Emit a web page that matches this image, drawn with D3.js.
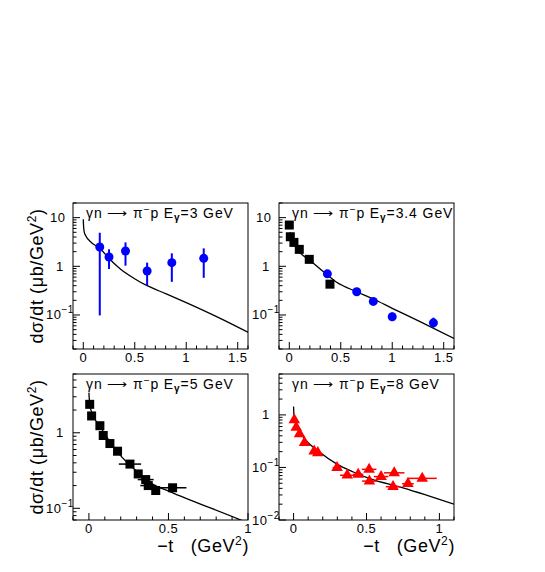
<!DOCTYPE html>
<html>
<head>
<meta charset="utf-8">
<script src="https://cdn.jsdelivr.net/npm/d3@7"></script>
<style>
  body { margin: 0; background: #fff; }
  text { font-family: "Liberation Sans", Arial, Helvetica, sans-serif; }
</style>
</head>
<body>
<script>
// E = 3 GeV (blue circles, vertical errors)
var t3 = [0.16, 0.25, 0.41, 0.62, 0.86, 1.17];
var ds3 = [2.5, 1.55, 2.06, 0.80, 1.19, 1.46];
var ds3Lo = [0.098, 0.88, 1.03, 0.40, 0.48, 0.58];
var ds3Hi = [4.9, 2.24, 3.1, 1.19, 1.85, 2.34];
var curve3T = [0, 0.003, 0.01, 0.025, 0.07, 0.167, 0.248, 0.36, 0.49, 0.62, 0.8, 1.0, 1.33, 1.6];
var curve3 = [9.3, 6.5, 5.0, 4.2, 3.2, 2.27, 1.46, 0.88, 0.57, 0.40, 0.274, 0.179, 0.085, 0.044];

// E = 3.4 GeV (black squares + blue circles)
var sqT34 = [0.0, 0.01, 0.045, 0.097, 0.194, 0.395];
var sqDs34 = [7.05, 4.05, 3.1, 2.23, 1.39, 0.43];
var ciT34 = [0.37, 0.655, 0.816, 1.0, 1.40];
var ciDs34 = [0.70, 0.30, 0.19, 0.092, 0.069];
var ciLo34 = [0.62, 0.27, 0.165, 0.075, 0.055];
var ciHi34 = [0.78, 0.33, 0.22, 0.112, 0.088];
var curve34T = [0.005, 0.05, 0.097, 0.194, 0.33, 0.46, 0.655, 0.816, 1.0, 1.27, 1.6];
var curve34 = [5.0, 2.9, 2.0, 1.35, 0.78, 0.47, 0.30, 0.213, 0.137, 0.073, 0.033];

// E = 5 GeV (black squares, horizontal errors)
var t5 = [0.005, 0.017, 0.069, 0.09, 0.132, 0.18, 0.258, 0.31, 0.357, 0.373, 0.42, 0.526];
var ds5 = [2.38, 1.67, 1.24, 0.92, 0.72, 0.57, 0.385, 0.285, 0.24, 0.20, 0.172, 0.187];
var t5Err = [0, 0, 0, 0, 0, 0, 0.07, 0, 0.05, 0.05, 0, 0.087];
var curve5T = [0, 0.005, 0.017, 0.069, 0.195, 0.3, 0.405, 0.5, 0.94, 1.0];
var curve5 = [3.4, 2.4, 1.88, 1.22, 0.51, 0.31, 0.206, 0.169, 0.072, 0.064];

// E = 8 GeV (red triangles, horizontal errors)
var t8 = [0.005, 0.018, 0.041, 0.075, 0.141, 0.166, 0.298, 0.368, 0.443, 0.518, 0.52, 0.60, 0.69, 0.682, 0.784, 0.882];
var ds8 = [0.80, 0.58, 0.435, 0.295, 0.204, 0.19, 0.099, 0.071, 0.074, 0.092, 0.055, 0.067, 0.079, 0.043, 0.049, 0.062];
var t8Err = [0, 0, 0, 0, 0, 0, 0.03, 0.05, 0.035, 0.05, 0.05, 0.05, 0.07, 0.05, 0.04, 0.1];
var curve8T = [0, 0.003, 0.011, 0.068, 0.18, 0.295, 0.41, 0.523, 0.75, 1.1];
var curve8 = [1.45, 0.95, 0.72, 0.376, 0.195, 0.117, 0.082, 0.061, 0.041, 0.02];

var energies = ['3', '3.4', '5', '8'];
var xTicks = [0, 0.5, 1, 1.5];
var blue = '#0000ff', red = '#ff0000';

var svg = d3.select('body').append('svg')
  .attr('width', 545)
  .attr('height', 572);

var zip = function(a, b) {
  return a.map(function(v, i) { return [v, b[i]]; });
};

var panels = [
  { id: 0, left: 73, top: 203, xdom: [-0.1, 1.6], ydom: [0.02, 20], e: energies[0], curve: zip(curve3T, curve3) },
  { id: 1, left: 279, top: 203, xdom: [-0.1, 1.6], ydom: [0.02, 20], e: energies[1], curve: zip(curve34T, curve34) },
  { id: 2, left: 73, top: 374, xdom: [-0.1, 1.0], ydom: [0.07, 6], e: energies[2], curve: zip(curve5T, curve5) },
  { id: 3, left: 279, top: 374, xdom: [-0.1, 1.1], ydom: [0.01, 6], e: energies[3], curve: zip(curve8T, curve8) }
];
var W = 175, H = 146;

var expLabel = function(sel, v) {
  var p = Math.round(Math.log10(v));
  if (p === 0) { sel.text('1'); return; }
  if (p === 1) { sel.text('10'); return; }
  sel.append('tspan').text('10');
  sel.append('tspan').attr('font-size', '10px').attr('dy', -6).text('\u2212' + (-p));
};

panels.forEach(function(p) {
  var x = d3.scaleLinear().domain(p.xdom).range([p.left, p.left + W]);
  var y = d3.scaleLog().domain(p.ydom).range([p.top + H, p.top]);
  var g = svg.append('g');

  g.append('clipPath').attr('id', 'clip' + p.id)
    .append('rect').attr('x', p.left).attr('y', p.top).attr('width', W).attr('height', H);

  // x ticks (inward)
  var minor = d3.range(Math.ceil(p.xdom[0] * 10), Math.floor(p.xdom[1] * 10 + 0.001) + 1).map(function(k) { return k / 10; });
  g.selectAll('.xt').data(minor).enter().append('line')
    .attr('x1', function(d) { return x(d); }).attr('x2', function(d) { return x(d); })
    .attr('y1', p.top + H)
    .attr('y2', function(d) { return p.top + H - (Math.abs(d * 2 - Math.round(d * 2)) < 1e-6 ? 7 : 3.5); })
    .attr('stroke', '#000').attr('stroke-width', 1);
  g.selectAll('.xl').data(xTicks.filter(function(d) { return d <= p.xdom[1] + 1e-6; })).enter().append('text')
    .attr('x', function(d) { return x(d); })
    .attr('y', p.top + H + 13)
    .attr('text-anchor', 'middle')
    .attr('font-size', '13px')
    .attr('letter-spacing', '0.5px')
    .text(function(d) { return d; });

  // y ticks (log, inward)
  var yt = y.ticks().filter(function(d) { return d >= p.ydom[0] * 0.999 && d <= p.ydom[1] * 1.001; });
  g.selectAll('.yt').data(yt).enter().append('line')
    .attr('x1', p.left)
    .attr('x2', function(d) { return p.left + (Math.abs(Math.log10(d) - Math.round(Math.log10(d))) < 1e-6 ? 7 : 3.5); })
    .attr('y1', function(d) { return y(d); }).attr('y2', function(d) { return y(d); })
    .attr('stroke', '#000').attr('stroke-width', 1);
  var decades = yt.filter(function(d) { return Math.abs(Math.log10(d) - Math.round(Math.log10(d))) < 1e-6; });
  g.selectAll('.yl').data(decades).enter().append('text')
    .attr('x', function(d) { return d < 0.5 ? p.left - 27 : (d > 5 ? p.left - 23 : p.left - 17); })
    .attr('y', function(d) { return y(d) + 4.5; })
    .attr('font-size', '13px')
    .attr('letter-spacing', '0.5px')
    .each(function(d) { expLabel(d3.select(this), d); });

  // frame
  g.append('rect')
    .attr('x', p.left).attr('y', p.top).attr('width', W).attr('height', H)
    .attr('fill', 'none').attr('stroke', '#000').attr('stroke-width', 1);

  // title
  var tt = g.append('text')
    .attr('x', p.left + 13).attr('y', p.top + 15)
    .attr('font-size', '14px')
    .attr('letter-spacing', '0.9px');
  tt.append('tspan').text('\u03b3n \u27f6 \u03c0');
  tt.append('tspan').attr('font-size', '10px').attr('dy', -5).text('\u2212');
  tt.append('tspan').attr('dy', 5).text('p E');
  tt.append('tspan').attr('font-size', '10px').attr('font-weight', 'bold').attr('dy', 3).text('\u03b3');
  tt.append('tspan').attr('dy', -3).text('=' + p.e + ' GeV');

  // model curve
  var line = d3.line()
    .x(function(d) { return x(d[0]); })
    .y(function(d) { return y(d[1]); })
    .curve(d3.curveMonotoneX);
  g.append('path').datum(p.curve)
    .attr('d', line)
    .attr('clip-path', 'url(#clip' + p.id + ')')
    .attr('fill', 'none').attr('stroke', '#000').attr('stroke-width', 1.3);

  p.x = x; p.y = y; p.g = g;
});

var circles = function(p, t, v, lo, hi, r) {
  var d = t.map(function(tt, i) { return { t: tt, v: v[i], lo: lo[i], hi: hi[i] }; });
  p.g.selectAll(null).data(d).enter().append('line')
    .attr('x1', function(e) { return p.x(e.t); }).attr('x2', function(e) { return p.x(e.t); })
    .attr('y1', function(e) { return p.y(e.lo); }).attr('y2', function(e) { return p.y(e.hi); })
    .attr('stroke', blue).attr('stroke-width', 2);
  p.g.selectAll(null).data(d).enter().append('circle')
    .attr('cx', function(e) { return p.x(e.t); })
    .attr('cy', function(e) { return p.y(e.v); })
    .attr('r', r).attr('fill', blue);
};

var hbars = function(p, t, v, err, color) {
  var d = t.map(function(tt, i) { return { t: tt, v: v[i], e: err[i] }; }).filter(function(e) { return e.e > 0; });
  p.g.selectAll(null).data(d).enter().append('line')
    .attr('x1', function(e) { return p.x(e.t - e.e); }).attr('x2', function(e) { return p.x(e.t + e.e); })
    .attr('y1', function(e) { return p.y(e.v); }).attr('y2', function(e) { return p.y(e.v); })
    .attr('stroke', color).attr('stroke-width', 1.5);
};

var squares = function(p, t, v) {
  p.g.selectAll(null).data(zip(t, v)).enter().append('rect')
    .attr('x', function(d) { return p.x(d[0]) - 4.5; })
    .attr('y', function(d) { return p.y(d[1]) - 4.5; })
    .attr('width', 9).attr('height', 9).attr('fill', '#000');
};

circles(panels[0], t3, ds3, ds3Lo, ds3Hi, 4.5);

squares(panels[1], sqT34, sqDs34);
circles(panels[1], ciT34, ciDs34, ciLo34, ciHi34, 4.5);

hbars(panels[2], t5, ds5, t5Err, '#000');
squares(panels[2], t5, ds5);

hbars(panels[3], t8, ds8, t8Err, red);
panels[3].g.selectAll(null).data(zip(t8, ds8)).enter().append('path')
  .attr('d', d3.symbol().type(d3.symbolTriangle).size(58))
  .attr('transform', function(d) { return 'translate(' + panels[3].x(d[0]) + ',' + panels[3].y(d[1]) + ')'; })
  .attr('fill', red);

// axis titles
[276, 447].forEach(function(cy) {
  var t = svg.append('text')
    .attr('transform', 'translate(43,' + cy + ') rotate(-90)')
    .attr('text-anchor', 'middle')
    .attr('font-size', '18px')
    .attr('letter-spacing', '0.6px');
  t.append('tspan').text('d\u03c3/dt (\u03bcb/GeV');
  t.append('tspan').attr('font-size', '12px').attr('dy', -7).text('2');
  t.append('tspan').attr('dy', 7).text(')');
});

[249, 455].forEach(function(rx) {
  var t = svg.append('text')
    .attr('x', rx).attr('y', 552)
    .attr('text-anchor', 'end')
    .attr('font-size', '18px')
    .attr('letter-spacing', '0.6px')
    .attr('xml:space', 'preserve');
  t.append('tspan').text('\u2212t   (GeV');
  t.append('tspan').attr('font-size', '12px').attr('dy', -7).text('2');
  t.append('tspan').attr('dy', 7).text(')');
});
</script>
</body>
</html>
